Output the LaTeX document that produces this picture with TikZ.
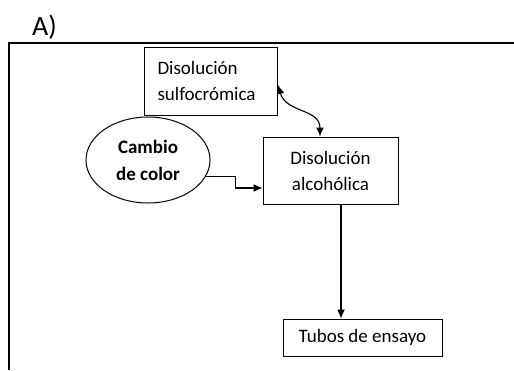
\documentclass[tikz,border=0pt]{standalone}
\usepackage{fontspec}
\setmainfont{Carlito}
\usetikzlibrary{arrows.meta,shapes.geometric}

\tikzset{
  caja/.style={draw,line width=1pt,font=\fontsize{19}{26}\selectfont,align=center,inner sep=0pt},
  flecha/.style={line width=1.1pt,-{Latex[length=9pt,width=8pt]}},
}

\begin{document}
\begin{tikzpicture}[x=1pt,y=-1pt]
  \useasboundingbox (0,0) rectangle (514,370);
  % marco abierto
  \draw[line width=1.4pt] (9,370) -- (9,43) -- (514,43);
  \node[anchor=base west,font=\fontsize{28}{30}\selectfont,inner sep=0pt] (titulo) at (32,35) {A)};
  % cajas y elipse
  \node[caja,minimum width=133pt,minimum height=68pt,text width=107pt,align=left] (sulfo) at (211,81) {Disolución\\sulfocrómica};
  \node[caja,minimum width=135pt,minimum height=67pt] (alcoh) at (330.5,170.5) {Disolución\\alcohólica};
  \node[caja,minimum width=159pt,minimum height=37pt] (tubos) at (362.5,337.5) {Tubos de ensayo};
  \node[draw,ellipse,line width=1pt,minimum width=124pt,minimum height=86pt,inner sep=0pt,font=\fontsize{19}{27}\selectfont\bfseries,align=center] (color) at (148,160) {Cambio\\de color};
  % conexiones
  \draw[line width=1.1pt,{Latex[length=9pt,width=8pt]}-{Latex[length=9pt,width=8pt]}] ([yshift=-4pt]sulfo.east) .. controls +(8,28) and +(0,-28) .. ([xshift=-10.5pt]alcoh.north);
  \draw[flecha] (color.-16) -- ++(30,0) |- ([yshift=-17.5pt]alcoh.west);
  \draw[flecha] ([xshift=10.5pt]alcoh.south) -- ([xshift=10.5pt]alcoh.south |- tubos.north);
\end{tikzpicture}
\end{document}
